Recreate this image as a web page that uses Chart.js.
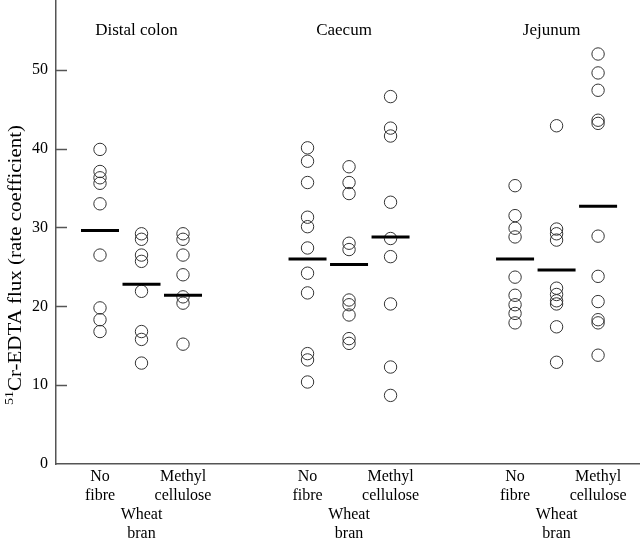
<!DOCTYPE html>
<html>
<head>
<meta charset="utf-8">
<script src="https://cdn.jsdelivr.net/npm/chart.js@4.4.0/dist/chart.umd.min.js"></script>
<style>
  html, body { margin: 0; padding: 0; background: #fff; }
  #wrap { width: 640px; height: 541px; }
</style>
</head>
<body>
<div id="wrap"><canvas id="fluxChart" width="640" height="541"></canvas></div>
<script>
// --- Data ---
const sections = ['Distal colon', 'Caecum', 'Jejunum'];
const treatments = [['No', 'fibre'], ['', '', 'Wheat', 'bran'], ['Methyl', 'cellulose']];
const xPositions = [1, 2, 3, 6, 7, 8, 11, 12, 13];
const yTicks = [0, 10, 20, 30, 40, 50];

const distalNoFibre    = [39.9, 37.1, 36.3, 35.6, 33.0, 26.5, 19.8, 18.3, 16.8];
const distalWheatBran  = [29.2, 28.5, 26.5, 25.7, 21.9, 16.8, 15.8, 12.8];
const distalMethyl     = [29.2, 28.5, 26.5, 24.0, 21.2, 20.4, 15.2];
const caecumNoFibre    = [40.1, 38.4, 35.7, 31.3, 30.1, 27.4, 24.2, 21.7, 14.0, 13.2, 10.4];
const caecumWheatBran  = [37.7, 35.7, 34.3, 28.0, 27.2, 20.8, 20.2, 18.9, 15.9, 15.3];
const caecumMethyl     = [46.6, 42.6, 41.6, 33.2, 28.6, 26.3, 20.3, 12.3, 8.7];
const jejunumNoFibre   = [35.3, 31.5, 29.9, 28.8, 23.7, 21.4, 20.2, 19.1, 17.9];
const jejunumWheatBran = [42.9, 29.8, 29.2, 28.4, 22.3, 21.5, 20.7, 20.3, 17.4, 12.9];
const jejunumMethyl    = [52.0, 49.6, 47.4, 43.6, 43.2, 28.9, 23.8, 20.6, 18.3, 17.9, 13.8];
const meanValues       = [29.6, 22.8, 21.4, 26.0, 25.3, 28.8, 26.0, 24.6, 32.7];

const columns = [
    distalNoFibre, distalWheatBran, distalMethyl,
    caecumNoFibre, caecumWheatBran, caecumMethyl,
    jejunumNoFibre, jejunumWheatBran, jejunumMethyl
];

const serif = "'Liberation Serif', 'DejaVu Serif', serif";

// means first so the bars sit on top of the circles
const datasets = [{
    label: 'Mean',
    data: meanValues.map((m, i) => ({ x: xPositions[i], y: m })),
    pointStyle: 'line',
    pointRadius: 19,
    borderWidth: 3,
    borderColor: '#000',
    backgroundColor: '#000'
}];

columns.forEach((vals, i) => {
    datasets.push({
        label: sections[Math.floor(i / 3)] + ' ' + treatments[i % 3].join(' ').trim(),
        data: vals.map(v => ({ x: xPositions[i], y: v })),
        pointStyle: 'circle',
        pointRadius: 6.2,
        borderWidth: 1,
        borderColor: '#333',
        backgroundColor: 'rgba(0,0,0,0)'
    });
});

// --- Extra decorations: inward y ticks, section headings, y title ---
const fluxDecor = {
    id: 'fluxDecor',
    afterDraw(chart) {
        const { ctx, chartArea, scales: { x, y } } = chart;
        ctx.save();

        ctx.strokeStyle = '#555';
        ctx.lineWidth = 1.5;
        y.ticks.forEach(t => {
            if (t.value === 0) return;
            const py = Math.round(y.getPixelForValue(t.value)) + 0.5;
            ctx.beginPath();
            ctx.moveTo(chartArea.left, py);
            ctx.lineTo(chartArea.left + 11, py);
            ctx.stroke();
        });

        ctx.fillStyle = '#000';
        ctx.font = '17px ' + serif;
        ctx.textAlign = 'center';
        ctx.textBaseline = 'middle';
        sections.forEach((name, g) => {
            const px = x.getPixelForValue(xPositions[g * 3 + 1]) - 5;
            ctx.fillText(name, px, chartArea.top + 31);
        });

        // y axis title with superscript 51
        const main = 'Cr-EDTA flux (rate coefficient)';
        ctx.font = '12px ' + serif;
        const supW = ctx.measureText('51').width;
        ctx.font = '18px ' + serif;
        const mainW = ctx.measureText(main).width;
        const total = supW + mainW;
        const stretch = 280 / total;
        ctx.translate(16, 265);
        ctx.rotate(-Math.PI / 2);
        ctx.scale(stretch, 1);
        ctx.textAlign = 'left';
        ctx.font = '12px ' + serif;
        ctx.fillText('51', -total / 2, -6);
        ctx.font = '18px ' + serif;
        ctx.fillText(main, -total / 2 + supW, 0);

        ctx.restore();
    }
};

const chart = new Chart(document.getElementById('fluxChart').getContext('2d'), {
    type: 'scatter',
    data: { datasets },
    options: {
        responsive: false,
        animation: false,
        events: [],
        layout: { padding: 0, autoPadding: false },
        plugins: {
            legend: { display: false },
            tooltip: { enabled: false }
        },
        scales: {
            x: {
                type: 'linear',
                position: 'bottom',
                min: -0.06,
                max: 14.01,
                afterBuildTicks: axis => { axis.ticks = xPositions.map(v => ({ value: v })); },
                afterFit: s => { s.height = 77; s.paddingLeft = 0; s.paddingRight = 0; },
                grid: { display: false, drawTicks: false },
                border: { display: true, color: '#555', width: 1.5 },
                ticks: {
                    autoSkip: false,
                    maxRotation: 0,
                    minRotation: 0,
                    padding: 3,
                    color: '#000',
                    font: { family: serif, size: 16, lineHeight: 1.2 },
                    callback: (value, index) => treatments[index % 3]
                }
            },
            y: {
                type: 'linear',
                min: 0,
                max: 58.85,
                afterBuildTicks: axis => { axis.ticks = yTicks.map(v => ({ value: v })); },
                afterFit: s => { s.width = 56; s.paddingTop = 0; s.paddingBottom = 0; },
                grid: { display: false, drawTicks: false },
                border: { display: true, color: '#555', width: 1.5 },
                ticks: {
                    padding: 8,
                    color: '#000',
                    font: { family: serif, size: 16 }
                }
            }
        }
    },
    plugins: [fluxDecor]
});
</script>
</body>
</html>
